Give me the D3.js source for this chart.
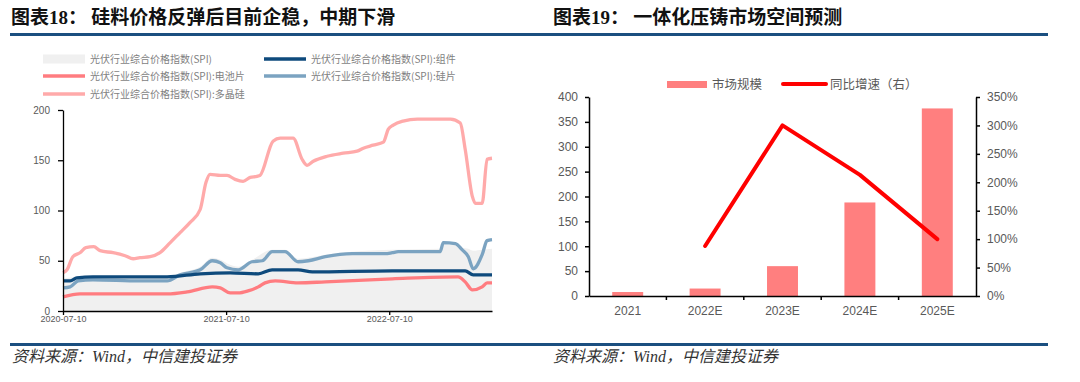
<!DOCTYPE html>
<html>
<head>
<meta charset="utf-8">
<script src="https://cdn.jsdelivr.net/npm/d3@7"></script>
<style>
body { margin: 0; background: #fff; }
</style>
</head>
<body>
<div id="chart"></div>
<script>
// left chart: SPI price index series, [date, value]
var spiTotal = [["2020-07-10",32],["2020-08-13",34],["2020-09-15",34],["2020-12-29",33],["2021-02-28",33],
  ["2021-03-29",38],["2021-05-13",44],["2021-06-09",53],["2021-06-27",51],["2021-07-19",46],["2021-08-06",44],
  ["2021-09-06",51],["2021-10-21",61],["2021-11-19",61],["2021-12-18",52],["2022-02-17",56],["2022-04-18",59],
  ["2022-07-17",61],["2022-11-01",62],["2022-11-08",66],["2022-12-05",66],["2022-12-20",63],["2023-01-03",62],
  ["2023-01-14",60],["2023-02-03",61],["2023-02-25",62]];

var polysilicon = [["2020-07-10",38],["2020-07-19",41],["2020-08-01",54],["2020-08-17",58],["2020-08-30",63],
  ["2020-09-17",64],["2020-10-01",60],["2020-10-30",58],["2020-11-26",55],["2020-12-14",52],["2020-12-29",53],
  ["2021-01-21",54],["2021-02-12",58],["2021-03-07",68],["2021-03-29",78],["2021-04-20",88],["2021-05-13",101],
  ["2021-05-26",128],["2021-06-04",136],["2021-06-27",135],["2021-07-12",135],["2021-07-30",131],["2021-08-17",129],
  ["2021-09-02",133],["2021-09-17",134],["2021-09-24",135],["2021-10-23",169],["2021-11-08",172],["2021-12-07",172],
  ["2021-12-27",151],["2022-01-07",145],["2022-01-21",149],["2022-02-21",154],["2022-03-29",157],["2022-04-29",159],
  ["2022-05-13",162],["2022-06-04",165],["2022-06-27",168],["2022-07-08",181],["2022-07-19",185],["2022-08-10",189],
  ["2022-09-11",191],["2022-11-24",191],["2022-12-16",187],["2022-12-27",161],["2023-01-12",114],["2023-01-19",107],
  ["2023-02-03",107],["2023-02-14",151],["2023-02-25",152]];

var module = [["2020-07-10",30],["2020-07-26",30],["2020-08-10",33],["2020-09-15",34],["2021-02-28",34],
  ["2021-05-13",37],["2021-07-19",38],["2021-09-20",37],["2021-10-21",41],["2021-12-18",41],["2022-01-19",39],
  ["2022-07-17",40],["2022-12-27",40],["2023-01-14",36],["2023-02-25",36]];

var wafer = [["2020-07-10",23],["2020-07-26",24],["2020-08-13",30],["2020-09-15",31],["2020-12-29",30],
  ["2021-02-28",30],["2021-03-29",36],["2021-05-13",41],["2021-06-09",50],["2021-06-27",48],["2021-07-12",43],
  ["2021-08-06",41],["2021-09-06",49],["2021-09-29",50],["2021-10-21",59],["2021-11-19",59],["2021-12-18",49],
  ["2022-01-10",50],["2022-02-17",54],["2022-04-18",57],["2022-07-01",57],["2022-07-17",58],["2022-07-30",59],
  ["2022-11-01",59],["2022-11-08",68],["2022-12-05",67],["2022-12-20",61],["2023-01-03",54],["2023-01-14",42],
  ["2023-02-03",56],["2023-02-14",70],["2023-02-25",71]];

var cell = [["2020-07-10",14],["2020-08-17",17],["2021-02-28",17],["2021-04-14",19],["2021-06-09",24],
  ["2021-06-27",23],["2021-07-19",18],["2021-08-06",18],["2021-08-28",20],["2021-09-20",24],["2021-10-05",28],
  ["2021-10-28",30],["2021-12-18",28],["2022-02-17",29],["2022-07-17",32],["2022-12-11",34],["2022-12-27",29],
  ["2023-01-12",21],["2023-02-03",24],["2023-02-14",28],["2023-02-25",28]];

var xTickDates = ["2020-07-10", "2021-07-10", "2022-07-10"];
var leftYTicks = [0, 50, 100, 150, 200];

// right chart
var years = ["2021", "2022E", "2023E", "2024E", "2025E"];
var marketSize = [8, 15, 60, 188, 377];
var growth = [null, 0.88, 3.00, 2.13, 1.00];
var rightYTicks = [0, 50, 100, 150, 200, 250, 300, 350, 400];
var pctTicks = [0, 0.5, 1, 1.5, 2, 2.5, 3, 3.5];

var cjk = "'Noto Sans CJK SC', sans-serif";
var parse = d3.timeParse("%Y-%m-%d");

var svg = d3.select("#chart").append("svg")
  .attr("width", 1080)
  .attr("height", 382)
  .style("display", "block");

// titles
function title(x, num, rest) {
  var t = svg.append("text")
    .attr("x", x).attr("y", 24)
    .style("font-family", cjk).style("font-weight", "bold")
    .style("font-size", "19px").attr("fill", "#111");
  t.append("tspan").text("图表");
  t.append("tspan").style("font-family", "'Liberation Serif', serif").text(num);
  t.append("tspan").text("： ");
  t.append("tspan").text(rest);
}
title(11, "18", "硅料价格反弹后目前企稳，中期下滑");
title(553, "19", "一体化压铸市场空间预测");

svg.append("rect").attr("x", 10).attr("y", 33).attr("width", 1038).attr("height", 3).attr("fill", "#1b4f80");
svg.append("rect").attr("x", 10).attr("y", 343).attr("width", 1038).attr("height", 3).attr("fill", "#1b4f80");

// source lines
[12, 553].forEach(function(x) {
  var t = svg.append("text")
    .attr("x", x).attr("y", 362)
    .style("font-family", cjk).style("font-style", "italic")
    .style("font-size", "16px").attr("fill", "#333");
  t.append("tspan").text("资料来源：");
  t.append("tspan").style("font-family", "'Liberation Serif', serif").text("Wind");
  t.append("tspan").text("，中信建投证券");
});

// ---------- left chart ----------
var x = d3.scaleTime()
  .domain([parse("2020-07-10"), parse("2023-02-25")])
  .range([63, 492]);
var y = d3.scaleLinear().domain([0, 200]).range([311, 110]);

var line = d3.line()
  .x(function(d) { return x(parse(d[0])); })
  .y(function(d) { return y(d[1]); })
  .curve(d3.curveMonotoneX);

var area = d3.area()
  .x(function(d) { return x(parse(d[0])); })
  .y0(y(0))
  .y1(function(d) { return y(d[1]); })
  .curve(d3.curveMonotoneX);

svg.append("path").datum(spiTotal).attr("d", area).attr("fill", "#f0f0f0");

var series = [
  {data: polysilicon, color: "#ffaaaa"},
  {data: cell, color: "#ff7c80"},
  {data: wafer, color: "#7ba3c1"},
  {data: module, color: "#0e4a7c"}
];
series.forEach(function(s) {
  svg.append("path").datum(s.data)
    .attr("d", line)
    .attr("fill", "none")
    .attr("stroke", s.color)
    .attr("stroke-width", 3.3)
    .attr("stroke-linejoin", "round");
});

var lxAxis = svg.append("g")
  .attr("transform", "translate(0," + y(0) + ")")
  .call(d3.axisBottom(x)
    .tickValues(xTickDates.map(parse))
    .tickFormat(d3.timeFormat("%Y-%m-%d"))
    .tickSize(4).tickSizeOuter(0).tickPadding(1));
var lyAxis = svg.append("g")
  .attr("transform", "translate(" + x.range()[0] + ",0)")
  .call(d3.axisLeft(y).tickValues(leftYTicks).tickSize(5).tickSizeOuter(0).tickPadding(8));

[lxAxis, lyAxis].forEach(function(g) {
  g.selectAll("path, line").attr("stroke", "#000").attr("stroke-width", 1.3);
  g.selectAll("text").attr("fill", "#595959")
    .style("font-family", "'Liberation Sans', sans-serif").style("font-size", "10px");
});
lxAxis.selectAll("text").style("font-size", "9px");

// left legend
var leftLegend = [
  {label: "光伏行业综合价格指数(SPI)", color: "#f0f0f0", area: true, x: 43, y: 59},
  {label: "光伏行业综合价格指数(SPI):组件", color: "#0e4a7c", x: 264, y: 59},
  {label: "光伏行业综合价格指数(SPI):电池片", color: "#ff7c80", x: 43, y: 76},
  {label: "光伏行业综合价格指数(SPI):硅片", color: "#7ba3c1", x: 264, y: 76},
  {label: "光伏行业综合价格指数(SPI):多晶硅", color: "#ffaaaa", x: 43, y: 94}
];
leftLegend.forEach(function(d) {
  if (d.area) {
    svg.append("rect").attr("x", d.x).attr("y", d.y - 4.5).attr("width", 42).attr("height", 9).attr("fill", d.color);
  } else {
    svg.append("line").attr("x1", d.x).attr("x2", d.x + 42).attr("y1", d.y).attr("y2", d.y)
      .attr("stroke", d.color).attr("stroke-width", 3.5);
  }
  svg.append("text").attr("x", d.x + 47).attr("y", d.y).attr("dy", "0.35em")
    .style("font-family", cjk).style("font-size", "10px").attr("fill", "#7f7f7f")
    .text(d.label);
});

// ---------- right chart ----------
var xb = d3.scaleBand().domain(years).range([589, 976]).paddingInner(0.6).paddingOuter(0.3);
var yb = d3.scaleLinear().domain([0, 400]).range([296, 97]);
var yp = d3.scaleLinear().domain([0, 3.5]).range([296, 97]);

svg.append("g").selectAll("rect")
  .data(years)
  .enter().append("rect")
  .attr("x", function(d) { return xb(d); })
  .attr("width", xb.bandwidth())
  .attr("y", function(d, i) { return yb(marketSize[i]); })
  .attr("height", function(d, i) { return yb(0) - yb(marketSize[i]); })
  .attr("fill", "#ff7f7f");

var growthPts = years.map(function(d, i) { return [d, growth[i]]; })
  .filter(function(d) { return d[1] != null; });
svg.append("path").datum(growthPts)
  .attr("d", d3.line()
    .x(function(d) { return xb(d[0]) + xb.bandwidth() / 2; })
    .y(function(d) { return yp(d[1]); }))
  .attr("fill", "none").attr("stroke", "#ff0000").attr("stroke-width", 4)
  .attr("stroke-linecap", "round").attr("stroke-linejoin", "round");

var rx = svg.append("g")
  .attr("transform", "translate(0,296)")
  .call(d3.axisBottom(xb).tickSize(0).tickSizeOuter(0).tickPadding(10));
// tick marks between categories
var step = xb.step();
rx.selectAll(".sep").data(years.slice(1)).enter().append("line")
  .attr("class", "sep")
  .attr("x1", function(d) { return xb(d) - (step - xb.bandwidth()) / 2; })
  .attr("x2", function(d) { return xb(d) - (step - xb.bandwidth()) / 2; })
  .attr("y1", 0).attr("y2", 4);

var ryl = svg.append("g").attr("transform", "translate(589,0)")
  .call(d3.axisLeft(yb).tickValues(rightYTicks).tickSize(4).tickSizeOuter(0).tickPadding(7));
var ryr = svg.append("g").attr("transform", "translate(976,0)")
  .call(d3.axisRight(yp).tickValues(pctTicks).tickFormat(d3.format(".0%")).tickSize(4).tickSizeOuter(0).tickPadding(7));

[rx, ryl, ryr].forEach(function(g) {
  g.selectAll("path, line").attr("stroke", "#000").attr("stroke-width", 1.5);
  g.selectAll("text").attr("fill", "#595959")
    .style("font-family", "'Liberation Sans', Arial, sans-serif").style("font-size", "12px");
});

// right legend
svg.append("rect").attr("x", 667).attr("y", 81).attr("width", 40).attr("height", 7).attr("fill", "#ff7f7f");
svg.append("text").attr("x", 712).attr("y", 84.5).attr("dy", "0.35em")
  .style("font-family", cjk).style("font-size", "12.5px").attr("fill", "#595959").text("市场规模");
svg.append("line").attr("x1", 783).attr("x2", 826).attr("y1", 84).attr("y2", 84)
  .attr("stroke", "#ff0000").attr("stroke-width", 4).attr("stroke-linecap", "round");
svg.append("text").attr("x", 830).attr("y", 84.5).attr("dy", "0.35em")
  .style("font-family", cjk).style("font-size", "12.5px").attr("fill", "#595959").text("同比增速（右）");
</script>
</body>
</html>
